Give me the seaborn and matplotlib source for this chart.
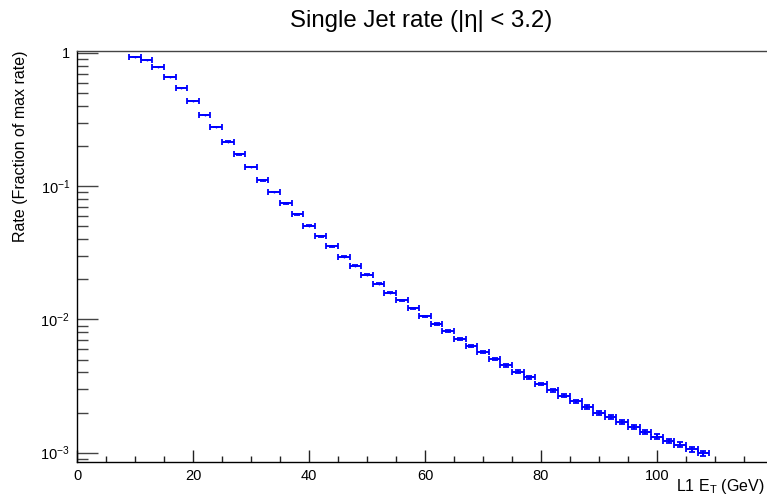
import matplotlib
matplotlib.use("Agg")
import matplotlib.pyplot as plt
import seaborn as sns
import numpy as np
from matplotlib.ticker import FixedLocator, FixedFormatter, MultipleLocator

# bin centres (GeV), bin width 2 GeV
et = [10, 12, 14, 16, 18, 20, 22, 24, 26, 28,
      30, 32, 34, 36, 38, 40, 42, 44, 46, 48,
      50, 52, 54, 56, 58, 60, 62, 64, 66, 68,
      70, 72, 74, 76, 78, 80, 82, 84, 86, 88,
      90, 92, 94, 96, 98, 100, 102, 104, 106, 108]
rate = [0.933, 0.886, 0.781, 0.660, 0.543, 0.434, 0.344, 0.277, 0.216, 0.1736,
        0.1394, 0.1107, 0.0905, 0.0744, 0.0615, 0.0505, 0.0421, 0.0354, 0.0296, 0.0253,
        0.0217, 0.0185, 0.01586, 0.0139, 0.0121, 0.01055, 0.00929, 0.00814, 0.00716, 0.00635,
        0.00572, 0.00507, 0.00451, 0.00405, 0.00367, 0.00327, 0.00295, 0.00267, 0.00243, 0.00220,
        0.00199, 0.00185, 0.00169, 0.00156, 0.00143, 0.00132, 0.00122, 0.00115, 0.00106, 0.00099]
# relative statistical errors
rel_err = [0.002, 0.002, 0.002, 0.002, 0.002, 0.003, 0.003, 0.003, 0.004, 0.004,
           0.005, 0.005, 0.006, 0.006, 0.007, 0.007, 0.008, 0.008, 0.009, 0.010,
           0.010, 0.011, 0.012, 0.012, 0.013, 0.014, 0.015, 0.016, 0.017, 0.018,
           0.019, 0.020, 0.021, 0.022, 0.023, 0.024, 0.025, 0.026, 0.028, 0.029,
           0.030, 0.032, 0.033, 0.035, 0.036, 0.038, 0.040, 0.041, 0.043, 0.045]
bin_half = 1.0
x_major = [0, 20, 40, 60, 80, 100]

sns.set_style("ticks")
plt.rcParams['font.family'] = ['Liberation Sans', 'DejaVu Sans']
plt.rcParams['mathtext.fontset'] = 'custom'
plt.rcParams['mathtext.rm'] = 'Liberation Sans'
plt.rcParams['mathtext.it'] = 'Liberation Sans'
plt.rcParams['text.color'] = 'black'
plt.rcParams['axes.labelcolor'] = 'black'

fig = plt.figure(figsize=(7.67, 4.97), dpi=100)
ax = fig.add_axes([77 / 767, 1 - 461.7 / 497, 696 / 767, (461.7 - 51) / 497])

yerr = np.array(rel_err) * np.array(rate)
ax.errorbar(et, rate, xerr=bin_half, yerr=yerr, fmt='none', ecolor='#0000ff',
            elinewidth=1.4, capsize=2.2, capthick=1.3)
sns.scatterplot(x=et, y=rate, ax=ax, color='#0000ff', s=2, linewidth=0)

ax.set_yscale('log')
ax.set_xlim(0, 120)
ax.set_ylim(8.55e-4, 1.035)

ax.yaxis.set_major_locator(FixedLocator([1e-3, 1e-2, 1e-1, 1]))
ax.yaxis.set_major_formatter(FixedFormatter(['$10^{-3}$', '$10^{-2}$', '$10^{-1}$', '1']))
minors = [m * 10.0 ** e for e in (-4, -3, -2, -1) for m in range(2, 10)]
ax.yaxis.set_minor_locator(FixedLocator(minors))
ax.xaxis.set_major_locator(FixedLocator(x_major))
ax.xaxis.set_minor_locator(MultipleLocator(5))

ax.tick_params(axis='y', which='major', direction='in', length=15, width=1, color='#444444',
               labelsize=10.5, pad=5, labelcolor='black')
ax.tick_params(axis='y', which='minor', direction='in', length=8, width=1, color='#444444')
ax.tick_params(axis='x', which='major', direction='in', length=8.5, width=1, color='#222222',
               labelsize=10.5, pad=5, labelcolor='black')
ax.tick_params(axis='x', which='minor', direction='in', length=4, width=1, color='#222222')

for side in ('left', 'bottom', 'top', 'right'):
    ax.spines[side].set_linewidth(1.0)
    ax.spines[side].set_color('black')
ax.spines['top'].set_color('#444444')

ax.set_ylabel('Rate (Fraction of max rate)', fontsize=11.5, loc='top')
ax.yaxis.set_label_coords(-0.071, 1.0)
fig.text(765 / 767, 1 - 487 / 497, 'L1 E$_{\\mathrm{T}}$ (GeV)', ha='right', va='center', fontsize=11.5)
fig.text(421 / 767, 1 - 21 / 497, 'Single Jet rate (|\u03b7| < 3.2)', ha='center', va='center',
         fontsize=17.3)

fig.savefig('out.png', dpi=100)
